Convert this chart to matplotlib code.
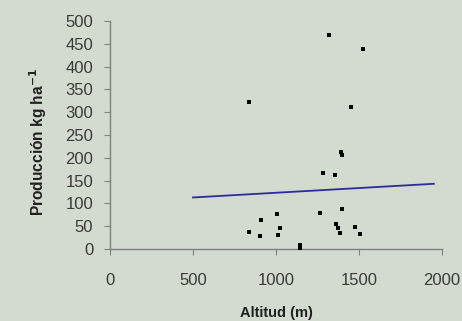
import matplotlib
matplotlib.use("Agg")
import matplotlib.pyplot as plt

# altitude (m) and yield (kg/ha)
altitud = [840, 1316, 1524, 1453, 1393, 1398, 1280, 1353, 840, 905, 912, 1003,
           1021, 1013, 1144, 1144, 1262, 1399, 1363, 1371, 1387, 1477, 1506]
produccion = [323, 469, 439, 311, 212, 206, 166, 162, 38, 28, 64, 77,
              45, 31, 8, 2, 80, 87, 54, 45, 36, 49, 32]

# linear trend line ends
trend_x = [500, 1950]
trend_y = [113, 143]

x_ticks = [0, 500, 1000, 1500, 2000]
y_ticks = [0, 50, 100, 150, 200, 250, 300, 350, 400, 450, 500]

bg = '#d3dbd0'
plt.rcParams['font.family'] = ['Liberation Sans', 'DejaVu Sans']

fig = plt.figure(figsize=(4.62, 3.21), dpi=100, facecolor=bg)
ax = fig.add_axes([0.238, 0.2243, 0.719, 0.7103], facecolor=bg)

ax.scatter(altitud, produccion, s=7, marker='s', color='black', zorder=3, linewidths=0)
ax.plot(trend_x, trend_y, color='#2b2ba0', linewidth=1.3, zorder=2)

ax.set_xlim(0, 2000)
ax.set_ylim(0, 500)
ax.set_xticks(x_ticks)
ax.set_yticks(y_ticks)

for s in ['top', 'right']:
    ax.spines[s].set_visible(False)
for s in ['left', 'bottom']:
    ax.spines[s].set_color('#808080')
    ax.spines[s].set_linewidth(1.0)

ax.tick_params(axis='both', colors='#808080', labelcolor='#3a3a3a', labelsize=12)
ax.tick_params(axis='x', length=4, pad=13)
ax.tick_params(axis='y', length=4, pad=8)

ax.set_xlabel('Altitud (m)', fontsize=10.5, fontweight='bold', color='#202020', labelpad=13)
ax.set_ylabel('Producción kg ha$^{\\mathbf{-1}}$', fontsize=11.2, fontweight='bold',
              color='#202020')
ax.yaxis.set_label_coords(-0.182, 0.468)

fig.savefig('out.png', dpi=100, facecolor=bg)
